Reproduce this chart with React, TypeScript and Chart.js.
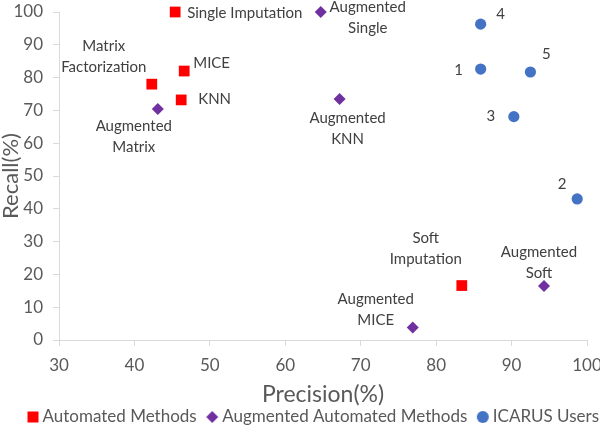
import React, { useEffect, useRef } from 'react';
import { Chart, registerables } from 'chart.js';

Chart.register(...registerables);

// ---- data ----
const seriesNames = ['Automated Methods', 'Augmented Automated Methods', 'ICARUS Users'];

const automatedNames = ['Single Imputation', 'MICE', 'Matrix\nFactorization', 'KNN', 'Soft\nImputation'];
const automatedPrecision = [45.4, 46.6, 42.3, 46.2, 83.4];
const automatedRecall = [100, 82.0, 78.0, 73.2, 16.6];

const augmentedNames = ['Augmented\nSingle', 'Augmented\nMatrix', 'Augmented\nKNN', 'Augmented\nMICE', 'Augmented\nSoft'];
const augmentedPrecision = [64.7, 43.1, 67.2, 76.9, 94.3];
const augmentedRecall = [100, 70.4, 73.5, 3.8, 16.5];

const userNames = ['4', '1', '5', '3', '2'];
const userPrecision = [85.9, 85.9, 92.5, 90.3, 98.7];
const userRecall = [96.3, 82.6, 81.7, 68.1, 43.0];

const xTitle = 'Precision(%)';
const yTitle = 'Recall(%)';

// ---- styles (label placement relative to marker, px) ----
const automatedLabelPlace: [number, number, CanvasTextAlign][] = [
  [12, 1, 'left'], [9, -8, 'left'], [-48, -38, 'center'], [17, -1, 'left'], [-36, -47, 'center'],
];
const augmentedLabelPlace: [number, number, CanvasTextAlign][] = [
  [47, -5, 'center'], [-24, 17, 'center'], [8, 19, 'center'], [-37, -28, 'center'], [-5, -34, 'center'],
];
const userLabelPlace: [number, number, CanvasTextAlign][] = [
  [20, -10, 'center'], [-22, 1, 'center'], [16, -18, 'center'], [-23, 0, 'center'], [-15, -15, 'center'],
];

const FONT = 'Lato, "Open Sans", sans-serif';
const RED = '#FF0000';
const PURPLE = '#7030A0';
const BLUE = '#4472C4';
const GRAY = '#595959';
const AXIS = '#d9d9d9';

function toPoints(xs: number[], ys: number[]) {
  return xs.map((x, i) => ({ x, y: ys[i] }));
}

// legend icon: a wide transparent canvas with the marker drawn at an offset
function makeIcon(shape: string, color: string, size: number, canvasW: number, offset: number) {
  const c = document.createElement('canvas');
  c.width = canvasW;
  c.height = 12;
  const g = c.getContext('2d')!;
  g.fillStyle = color;
  const h = size / 2;
  const cx = offset + h;
  const cy = 6;
  if (shape === 'rect') {
    g.fillRect(offset, cy - h, size, size);
  } else if (shape === 'diamond') {
    g.beginPath();
    g.moveTo(cx, cy - h);
    g.lineTo(cx + h, cy);
    g.lineTo(cx, cy + h);
    g.lineTo(cx - h, cy);
    g.closePath();
    g.fill();
  } else {
    g.beginPath();
    g.arc(cx, cy, h, 0, Math.PI * 2);
    g.fill();
  }
  return c;
}

const labelPlugin = {
  id: 'pointLabels',
  afterDatasetsDraw(chart: any) {
    const ctx = chart.ctx;
    const names = [automatedNames, augmentedNames, userNames];
    const places = [automatedLabelPlace, augmentedLabelPlace, userLabelPlace];
    ctx.save();
    ctx.font = `15px ${FONT}`;
    ctx.fillStyle = '#404040';
    ctx.textBaseline = 'middle';
    names.forEach((list, di) => {
      const meta = chart.getDatasetMeta(di);
      meta.data.forEach((el: any, j: number) => {
        const [dx, dy, align] = places[di][j];
        ctx.textAlign = align;
        const lines = list[j].split('\n');
        lines.forEach((line: string, k: number) => {
          ctx.fillText(line, el.x + dx, el.y + dy + k * 21);
        });
      });
    });
    ctx.restore();
  },
};

export default function App() {
  const ref = useRef<HTMLCanvasElement | null>(null);

  useEffect(() => {
    if (!ref.current) return;
    const icons = [
      makeIcon('rect', RED, 11, 40, 22),
      makeIcon('diamond', PURPLE, 12, 40, 21),
      makeIcon('circle', BLUE, 12, 40, 21),
    ];
    const chart = new Chart(ref.current, {
      type: 'scatter',
      data: {
        datasets: [
          {
            label: seriesNames[0],
            data: toPoints(automatedPrecision, automatedRecall),
            pointStyle: 'rect',
            pointRadius: 7.6,
            pointHoverRadius: 7.6,
            backgroundColor: RED,
            borderColor: RED,
            borderWidth: 0,
            clip: false,
          } as any,
          {
            label: seriesNames[1],
            data: toPoints(augmentedPrecision, augmentedRecall),
            pointStyle: 'rectRot',
            pointRadius: 6,
            pointHoverRadius: 6,
            backgroundColor: PURPLE,
            borderColor: PURPLE,
            borderWidth: 0,
            clip: false,
          } as any,
          {
            label: seriesNames[2],
            data: toPoints(userPrecision, userRecall),
            pointStyle: 'circle',
            pointRadius: 5.6,
            pointHoverRadius: 5.6,
            backgroundColor: BLUE,
            borderColor: BLUE,
            borderWidth: 0,
            clip: false,
          } as any,
        ],
      },
      options: {
        animation: false,
        responsive: false,
        devicePixelRatio: 1,
        layout: { padding: { left: 0, right: 1, top: 12, bottom: 0 } },
        plugins: {
          tooltip: { enabled: false },
          legend: {
            position: 'bottom',
            align: 'end',
            maxHeight: 17.5,
            labels: {
              usePointStyle: true,
              boxWidth: 20,
              boxHeight: 12,
              padding: 0,
              color: GRAY,
              font: { family: FONT, size: 17 },
              generateLabels: (c: any) =>
                c.data.datasets.map((ds: any, i: number) => ({
                  text: ds.label,
                  fillStyle: ds.backgroundColor,
                  strokeStyle: ds.backgroundColor,
                  lineWidth: 0,
                  pointStyle: icons[i],
                  hidden: false,
                  datasetIndex: i,
                  fontColor: GRAY,
                })),
            },
          } as any,
        },
        scales: {
          x: {
            type: 'linear',
            min: 30,
            max: 100,
            ticks: { stepSize: 10, color: GRAY, padding: 9, font: { family: FONT, size: 17 } },
            grid: { drawOnChartArea: false, color: AXIS, tickLength: 6 },
            border: { color: AXIS, width: 1 },
            title: {
              display: true,
              text: xTitle,
              color: GRAY,
              font: { family: FONT, size: 23, lineHeight: 1 },
              padding: { top: 0, bottom: 2 },
            },
            afterFit: (s: any) => {
              s.height = 68.5;
              s.paddingLeft = 0;
              s.paddingRight = 13;
            },
          },
          y: {
            type: 'linear',
            min: 0,
            max: 100,
            ticks: { stepSize: 10, color: GRAY, padding: 10, font: { family: FONT, size: 17 } },
            grid: { drawOnChartArea: false, color: AXIS, tickLength: 6 },
            border: { color: AXIS, width: 1 },
            title: {
              display: true,
              text: yTitle,
              color: GRAY,
              font: { family: FONT, size: 22, lineHeight: 1 },
              padding: { top: 0, bottom: 0 },
            },
            afterFit: (s: any) => {
              s.width = 59;
              s.paddingTop = 0;
              s.paddingBottom = 0;
            },
          },
        },
      } as any,
      plugins: [labelPlugin],
    });
    return () => chart.destroy();
  }, []);

  return (
    <div style={{ position: 'fixed', left: 0, top: 0, width: 600, height: 426, background: '#fff' }}>
      <canvas ref={ref} width={600} height={426} style={{ display: 'block', width: 600, height: 426 }} />
    </div>
  );
}
